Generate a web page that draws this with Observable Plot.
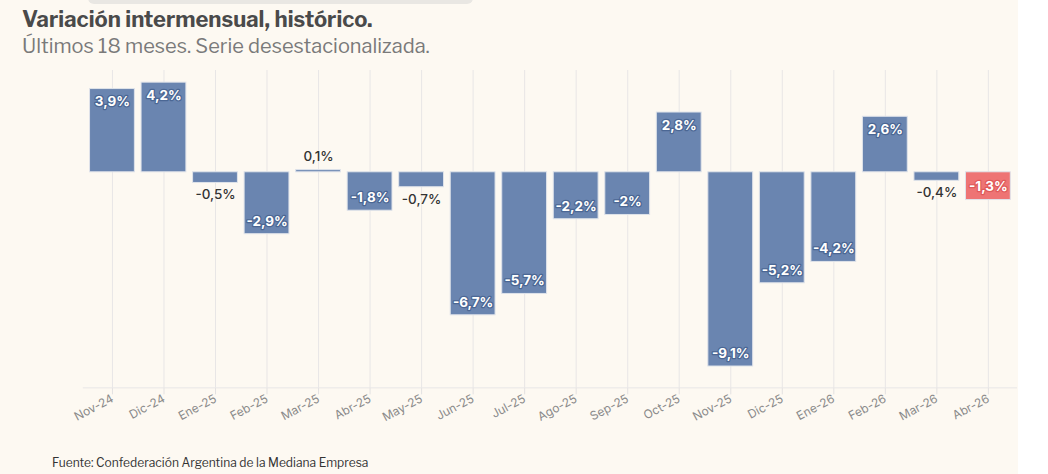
<!DOCTYPE html>
<html><head><meta charset="utf-8">
<script src="https://cdn.jsdelivr.net/npm/d3@7"></script>
<script src="https://cdn.jsdelivr.net/npm/@observablehq/plot@0.6"></script>
<style>
html,body{margin:0;padding:0;background:#fff;}
#wrap{position:relative;width:1018px;height:474px;background:#fdf9f2;font-family:"Libre Franklin",Inter,"Open Sans",sans-serif;overflow:hidden;}
#topbar{position:absolute;left:88px;top:-8px;width:385px;height:12px;background:#e9e7e3;border-radius:8px;}
#title{position:absolute;left:22px;top:6px;font-size:22px;font-weight:700;color:#4a4a4a;}
#subtitle{position:absolute;left:22px;top:34px;font-size:20px;color:#7a7a7a;}
#chart{position:absolute;left:0;top:60px;}
#caption{position:absolute;left:52px;top:455px;font-size:12px;color:#333;}
#chart g[aria-label="x-axis tick label"] text{fill:#8a8a8a;}
</style></head>
<body><div id="wrap">
<div id="topbar"></div>
<div id="title">Variación intermensual, histórico.</div>
<div id="subtitle">Últimos 18 meses. Serie desestacionalizada.</div>
<div id="chart"></div>
<div id="caption">Fuente: Confederación Argentina de la Mediana Empresa</div>
</div>
<script>
const months = ["Nov-24","Dic-24","Ene-25","Feb-25","Mar-25","Abr-25","May-25","Jun-25","Jul-25","Ago-25","Sep-25","Oct-25","Nov-25","Dic-25","Ene-26","Feb-26","Mar-26","Abr-26"];
const values = [3.9,4.2,-0.5,-2.9,0.1,-1.8,-0.7,-6.7,-5.7,-2.2,-2,2.8,-9.1,-5.2,-4.2,2.6,-0.4,-1.3];
const highlight = "Abr-26";

const data = months.map((m,i)=>({month:m, value:values[i], hi:m===highlight}));
const fmt = d => String(d.value).replace(".", ",") + "%";
const blue = "#6a85b0", red = "#ee7474";
const big = d => Math.abs(d.value) >= 1;
const inPos = data.filter(d=>big(d) && d.value>0);
const inNeg = data.filter(d=>big(d) && d.value<0);
const outPos = data.filter(d=>!big(d) && d.value>0);
const outNeg = data.filter(d=>!big(d) && d.value<0);
const inStyle = {x:"month", y:"value", text:fmt, fill:"white",
  stroke:d=>d.hi?"#e05a5a":"#4b6794", strokeWidth:2.5, fontWeight:700, fontSize:13.5, textAnchor:"middle"};
const outStyle = {x:"month", y:"value", text:fmt, fill:"#333", fontSize:13.5, fontWeight:500, textAnchor:"middle"};

const chart = Plot.plot({
  width: 1020, height: 390,
  marginTop: 10, marginBottom: 62, marginLeft: 83, marginRight: 1,
  style: {background:"transparent", fontFamily:"Inter, 'Open Sans', sans-serif", fontSize:"12px"},
  x: {domain: months, padding: 0.13, round: false, label: null, tickRotate: -28, tickSize: 7, tickPadding: 3},
  y: {domain: [-10.1, 4.77], axis: null},
  marks: [
    Plot.gridX(months, {stroke:"#e8e6e6", strokeOpacity:1, y1:-10.1, y2:4.77}),
    Plot.ruleY([-10.1], {stroke:"#e8e6e6"}),
    Plot.barY(data, {x:"month", y:"value", fill:d=>d.hi?red:blue, stroke:"#dfe3ea", strokeWidth:1}),
    Plot.text(inPos, {...inStyle, dy:13}),
    Plot.text(inNeg, {...inStyle, dy:-13}),
    Plot.text(outPos, {...outStyle, dy:-13}),
    Plot.text(outNeg, {...outStyle, dy:12})
  ]
});
chart.querySelectorAll('g[aria-label="x-axis tick"] line, g[aria-label="x-axis tick"] path').forEach(e=>e.setAttribute("stroke","#e3e1e1"));
document.getElementById("chart").appendChild(chart);
</script>
</body></html>
